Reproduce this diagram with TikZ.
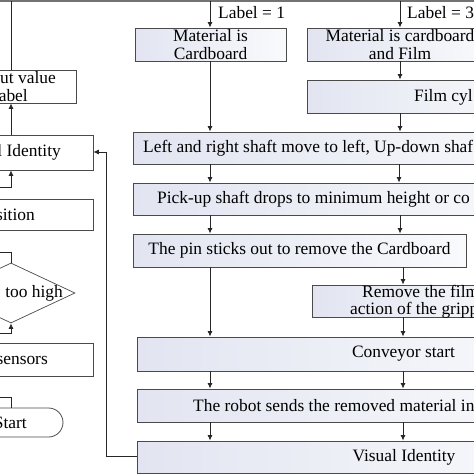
\documentclass[tikz,border=0pt]{standalone}
\usepackage{fontspec}
\setmainfont{Liberation Serif}
\usetikzlibrary{arrows.meta,fit,shapes.geometric}
\definecolor{boxl}{HTML}{E2E5F1}
\definecolor{boxr}{HTML}{F9FAFC}
\definecolor{edge}{HTML}{4A4A4A}
\begin{document}
\begin{tikzpicture}[x=1pt,y=-1pt,
  txt/.style={font=\fontsize{17.4}{18}\selectfont, inner sep=0pt, text=black},
  rbox/.style={draw=edge, line width=0.9pt, left color=boxl, right color=boxr, inner sep=0pt,
    font=\fontsize{17.4}{18}\selectfont, align=center},
  lbox/.style={draw=edge, line width=0.8pt, fill=white, inner sep=0pt},
  conn/.style={draw=black!85, line width=0.8pt},
  arr/.style={conn, -{Latex[length=5.5pt,width=5pt]}}]
\useasboundingbox (0,0) rectangle (474,474);
\fill[white] (0,0) rectangle (474,474);
\clip (0,0) rectangle (474,474);

% top line
\coordinate (tl) at (-10,1);
\coordinate (tr) at (490,1);
\draw[draw=black!55, line width=2.4pt] (tl) -- (tr);
\coordinate (t1) at (210,1);
\coordinate (t3) at (400,1);
\coordinate (t0) at (11,1);

% right column boxes
\node[rbox, fit={(135,28) (286,61)}] (card) {};
\node[txt, align=center] (cardt) at (210.5,44.5) {Material is\\[0pt]Cardboard};
\node[rbox, fit={(307,28) (493,61)}] (mcf) {};
\node[txt, align=center] (mcft) at (400,44.5) {Material is cardboard\\[0pt]and Film};
\node[rbox, fit={(307,80) (530,113)}] (film) {};
\node[txt, anchor=west] (filmt) at (414,97) {Film cyl};
\node[rbox, fit={(133,132) (560,164)}] (lr) {};
\node[txt, anchor=west] (lrt) at (143,148) {Left and right shaft move to left, Up-down shaf};
\node[rbox, fit={(133,183) (560,215)}] (pick) {};
\node[txt, anchor=west] (pickt) at (157,199) {Pick-up shaft drops to minimum height or co};
\node[rbox, fit={(133,234) (466,267)}] (pin) {};
\node[txt] (pint) at (299.5,250.5) {The pin sticks out to remove the Cardboard};
\node[rbox, fit={(312,285) (530,317)}] (rem) {};
\node[txt, anchor=west, align=left, font=\fontsize{17.4}{17}\selectfont] (remt) at (350,301.5) {\hspace*{12pt}Remove the film\\action of the gripp};
\node[rbox, fit={(137,337) (560,371)}] (conv) {};
\node[txt] (convt) at (403.5,354) {Conveyor start};
\node[rbox, fit={(137,389) (560,422)}] (rob) {};
\node[txt, anchor=west] (robt) at (193,405.5) {The robot sends the removed material in};
\node[rbox, fit={(137,441) (560,473)}] (vis) {};
\node[txt] (vist) at (404,457) {Visual Identity};

% labels
\node[txt, anchor=west] (lab1) at (218,13) {Label = 1};
\node[txt, anchor=west] (lab3) at (407,13) {Label = 3};

% left column
\node[lbox, fit={(-52,70) (76,103)}] (out) {};
\node[txt, anchor=east] (outt1) at (56,78) {ut value};
\node[txt, anchor=east] (outt2) at (28,96) {abel};
\node[lbox, fit={(-70,135) (93,170)}] (ident) {};
\node[txt, anchor=east] (identt) at (61,152) {l Identity};
\node[lbox, fit={(-70,199) (93,230)}] (pos) {};
\node[txt, anchor=east] (post) at (35,214.5) {sition};
\node[draw=edge, line width=0.7pt, fill=white, diamond, minimum width=128pt, minimum height=60pt, inner sep=0pt] (dia) at (11,293) {};
\node[txt, anchor=east] (diat) at (63,293) {too high};
\node[lbox, fit={(-70,343) (93,376)}] (sens) {};
\node[txt, anchor=east] (senst) at (48,360) {sensors};
\node[draw=edge, line width=0.8pt, fill=white, rounded corners=14.5pt, fit={(-60,408) (63,437)}, inner sep=0pt] (start) {};
\node[txt, anchor=east] (startt) at (27,422.5) {Start};

% right connectors
\draw[arr] (t1) -- (card.north -| t1);
\draw[arr] (t3) -- (mcf.north -| t3);
\draw[arr] (card.south -| 210,0) -- (lr.north -| 210,0);
\draw[arr] (mcf.south -| 400,0) -- (film.north -| 400,0);
\draw[arr] (film.south -| 400,0) -- (lr.north -| 400,0);
\draw[arr] (lr.south -| 210,0) -- (pick.north -| 210,0);
\draw[arr] (lr.south -| 399,0) -- (pick.north -| 399,0);
\draw[arr] (pick.south -| 210,0) -- (pin.north -| 210,0);
\draw[arr] (pick.south -| 400,0) -- (pin.north -| 400,0);
\draw[arr] (pin.south -| 210,0) -- (conv.north -| 210,0);
\draw[arr] (pin.south -| 403,0) -- (rem.north -| 403,0);
\draw[arr] (rem.south -| 403,0) -- (conv.north -| 403,0);
\draw[arr] (conv.south -| 210,0) -- (rob.north -| 210,0);
\draw[arr] (conv.south -| 403,0) -- (rob.north -| 403,0);
\draw[arr] (rob.south -| 210,0) -- (vis.north -| 210,0);
\draw[arr] (rob.south -| 403,0) -- (vis.north -| 403,0);

% feedback loop
\draw[arr] (vis.west |- 0,456) -- (106,456) -- (106,152) -- (ident.east |- 0,152);

% left connectors
\draw[conn] (out.north -| t0) -- (t0);
\draw[arr] (ident.north -| t0) -- (out.south -| t0);
\coordinate (e1) at (-10,187);
\draw[arr] (e1) -- (11,187) -- (ident.south -| t0);
\coordinate (e2) at (-10,252);
\draw[conn] (e2) -- (11,252) -- (dia.north);
\coordinate (e3) at (-10,333);
\draw[arr] (e3) -- (11,333) -- (dia.south);
\coordinate (e4) at (-10,397);
\draw[conn] (e4) -- (11,397) -- (start.north -| t0);
\end{tikzpicture}
\end{document}
